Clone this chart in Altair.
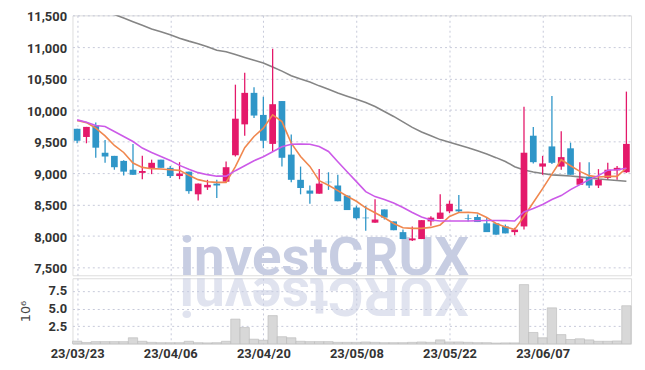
import altair as alt
import pandas as pd

dates = ["23/03/23", "23/03/24", "23/03/27", "23/03/28", "23/03/29", "23/03/30", "23/03/31",
         "23/04/03", "23/04/04", "23/04/05", "23/04/06", "23/04/07", "23/04/10", "23/04/11",
         "23/04/12", "23/04/13", "23/04/14", "23/04/17", "23/04/18", "23/04/19", "23/04/20",
         "23/04/21", "23/04/24", "23/04/25", "23/04/26", "23/04/27", "23/04/28", "23/05/02",
         "23/05/03", "23/05/04", "23/05/08", "23/05/09", "23/05/10", "23/05/11", "23/05/12",
         "23/05/15", "23/05/16", "23/05/17", "23/05/18", "23/05/19", "23/05/22", "23/05/23",
         "23/05/24", "23/05/25", "23/05/26", "23/05/30", "23/05/31", "23/06/01", "23/06/02",
         "23/06/05", "23/06/07", "23/06/08", "23/06/09", "23/06/12", "23/06/13", "23/06/14",
         "23/06/15", "23/06/16", "23/06/19", "23/06/20"]

opens = [9700, 9570, 9750, 9320, 9270, 9190, 9050, 9000, 9070, 9210,
         9080, 8950, 9020, 8660, 8770, 8830, 8860, 9280, 9770, 10270,
         9920, 9460, 10140, 9290, 8890, 8720, 8670, 8860, 8800, 8640,
         8450, 8290, 8210, 8420, 8230, 8060, 7930, 7950, 8230, 8270,
         8390, 8420, 8280, 8300, 8200, 8200, 8150, 8060, 8150, 9590,
         9100, 9420, 9100, 9390, 8810, 8940, 8800, 8920, 9040, 9010]
highs = [9700, 9730, 9800, 9520, 9270, 9200, 9460, 9270, 9210, 9210,
         9110, 9170, 9020, 8830, 8890, 8890, 9180, 10400, 10590, 10360,
         10210, 10970, 10140, 9610, 9100, 8800, 9060, 9010, 8970, 8640,
         8480, 8480, 8580, 8420, 8230, 8100, 8150, 8250, 8310, 8660,
         8560, 8650, 8340, 8340, 8290, 8200, 8180, 8130, 10050, 9730,
         9270, 10220, 9660, 9480, 9170, 9170, 9060, 9160, 9110, 10290]
lows = [9470, 9470, 9240, 9160, 9050, 8960, 8970, 8900, 8980, 9080,
        8920, 8900, 8670, 8560, 8730, 8600, 8850, 9260, 9590, 9870,
        9390, 9340, 9100, 8850, 8660, 8510, 8670, 8730, 8550, 8410,
        8260, 8080, 8210, 8260, 8090, 7950, 7920, 7950, 8160, 8270,
        8360, 8370, 8230, 8220, 8060, 8020, 8040, 8010, 8100, 9150,
        8970, 9140, 9050, 8970, 8810, 8760, 8760, 8900, 8890, 9000]
closes = [9510, 9730, 9400, 9260, 9090, 9020, 8970, 9030, 9160, 9080,
          8950, 8990, 8710, 8830, 8810, 8800, 9090, 9860, 10270, 9910,
          9510, 10090, 9240, 8890, 8760, 8670, 8830, 8850, 8550, 8410,
          8280, 8280, 8260, 8290, 8090, 7950, 7960, 8250, 8290, 8370,
          8510, 8390, 8270, 8220, 8060, 8020, 8040, 8100, 9320, 9170,
          9150, 9160, 9250, 8970, 8910, 8800, 8890, 9050, 9080, 9460]

ma_short = [9830, 9798, 9710, 9588, 9435, 9324, 9157, 9087, 9067, 9062,
            9051, 9040, 8961, 8893, 8858, 8850, 8850, 9100, 9400, 9577,
            9710, 9920, 9814, 9473, 9261, 9103, 8877, 8803, 8719, 8629,
            8550, 8446, 8367, 8288, 8198, 8130, 8120, 8119, 8135, 8174,
            8308, 8371, 8376, 8364, 8293, 8198, 8143, 8103, 8308, 8530,
            8751, 8980, 9209, 9114, 9024, 8956, 8936, 8945, 8945, 9078]
ma_mid = [9841, 9805, 9751, 9735, 9656, 9577, 9498, 9394, 9324, 9261,
          9198, 9119, 9059, 9004, 8972, 8948, 8948, 9035, 9114, 9193,
          9256, 9335, 9414, 9454, 9457, 9454, 9419, 9340, 9177, 9019,
          8861, 8703, 8624, 8577, 8522, 8451, 8372, 8301, 8253, 8237,
          8237, 8237, 8237, 8240, 8245, 8245, 8242, 8237, 8380, 8435,
          8498, 8577, 8640, 8735, 8814, 8893, 8956, 9043, 9051, 9075]
ma_long = [None, None, None, 11570, 11513, 11459, 11400, 11344, 11284, 11241,
           11194, 11137, 11091, 11050, 11000, 10947, 10922, 10877, 10832, 10789,
           10745, 10680, 10615, 10543, 10490, 10441, 10381, 10328, 10269, 10217,
           10168, 10116, 10053, 9974, 9896, 9809, 9722, 9648, 9588, 9528,
           9486, 9444, 9400, 9351, 9299, 9242, 9181, 9098, 9046, 9015,
           8991, 8969, 8961, 8951, 8937, 8918, 8902, 8890, 8879, 8868]
volume = [0.37, 0.18, 0.3, 0.3, 0.3, 0.3, 0.85, 0.35, 0.2, 0.15,
          0.15, 0.15, 0.35, 0.15, 0.12, 0.15, 0.35, 3.5, 2.3, 0.65,
          0.5, 4.0, 1.0, 0.85, 0.35, 0.3, 0.3, 0.3, 0.2, 0.2,
          0.2, 0.25, 0.2, 0.15, 0.15, 0.15, 0.2, 0.25, 0.2, 0.55,
          0.25, 0.25, 0.2, 0.15, 0.15, 0.1, 0.12, 0.12, 8.4, 1.6,
          0.85, 5.1, 1.3, 0.6, 0.7, 0.55, 0.35, 0.35, 0.4, 5.4]

price_ticks = [7500, 8000, 8500, 9000, 9500, 10000, 10500, 11000, 11500]
vol_ticks = [2.5, 5.0, 7.5]
date_ticks = [0, 10, 20, 30, 40, 50]

df = pd.DataFrame({
    "i": list(range(len(dates))), "date": dates, "open": opens, "high": highs,
    "low": lows, "close": closes, "ma_short": ma_short, "ma_mid": ma_mid,
    "ma_long": ma_long, "volume": volume,
})

UP = "#e4196a"
DOWN = "#2f96c8"
GRID = "#c6c9da"
LABEL_FONT = "Roboto"
WM_FONT = "Roboto"

W = 563
H_MAIN = 262
H_VOL = 66

label_expr = "[" + ",".join("'" + d + "'" for d in dates) + "][datum.value]"
xscale = alt.Scale(domain=[-0.5, len(dates) - 0.5], nice=False, zero=False)

base = alt.Chart(df).transform_calculate(
    xa="datum.i - 0.36", xb="datum.i + 0.36", va="datum.i - 0.5", vb="datum.i + 0.5"
)

x_main_axis = alt.Axis(
    values=date_ticks, labels=False, ticks=False, domain=False, title=None,
    grid=True, gridColor=GRID, gridDash=[2, 3])
y_main_scale = alt.Scale(domain=[7375, 11500], nice=False, zero=False)
y_main_axis = alt.Axis(
    values=price_ticks, format=",.0f", title=None, ticks=False, domain=False,
    grid=True, gridColor=GRID, gridDash=[2, 3], labelFont=LABEL_FONT,
    labelFontSize=13, labelFontWeight="bold", labelColor="#333333",
    labelPadding=6, labelOffset=1.5, minExtent=59, maxExtent=59)


def xm(field):
    return alt.X(field, scale=xscale, axis=x_main_axis)


def ym(field):
    return alt.Y(field, scale=y_main_scale, axis=y_main_axis)


color_cond = alt.condition("datum.close >= datum.open", alt.value(UP), alt.value(DOWN))

watermark = alt.Chart(pd.DataFrame({"t": ["investCRUX"]})).mark_text(
    font=WM_FONT, fontSize=55, fontWeight="bold", color="#c7cde2",
    align="left", baseline="alphabetic", clip=True
).encode(x=alt.value(108), y=alt.value(H_MAIN), text="t:N")

long_line = base.transform_filter("isValid(datum.ma_long)").mark_line(
    color="#858585", strokeWidth=1.6, clip=True
).encode(x=xm("i:Q"), y=ym("ma_long:Q"))

wicks = base.mark_rule(strokeWidth=1.3).encode(
    x=xm("i:Q"), y=ym("low:Q"), y2="high:Q", color=color_cond)
bodies = base.mark_rect().encode(
    x=xm("xa:Q"), x2="xb:Q", y=ym("open:Q"), y2="close:Q", color=color_cond)

short_line = base.mark_line(color="#f0874e", strokeWidth=1.6).encode(
    x=xm("i:Q"), y=ym("ma_short:Q"))
mid_line = base.mark_line(color="#cc5ae8", strokeWidth=1.6).encode(
    x=xm("i:Q"), y=ym("ma_mid:Q"))

main = alt.layer(watermark, long_line, wicks, bodies, short_line, mid_line).properties(
    width=W, height=H_MAIN)

reflection = alt.Chart(pd.DataFrame({"t": ["XURCtsevni"]})).mark_text(
    font=WM_FONT, fontSize=55, fontWeight="bold", color="#c7cde2", opacity=0.55,
    align="right", baseline="alphabetic", angle=180, clip=True
).encode(x=alt.value(108), y=alt.value(0), text="t:N")

vol_bars = base.mark_rect(color="#d8d8d8", stroke="#b8b8b8", strokeWidth=0.6).encode(
    x=alt.X("va:Q", scale=xscale, axis=alt.Axis(
        values=date_ticks, labelExpr=label_expr, ticks=False, domain=False, title=None,
        grid=True, gridColor=GRID, gridDash=[2, 3], labelFont=LABEL_FONT,
        labelFontSize=13, labelFontWeight="bold", labelColor="#333333", labelPadding=4)),
    x2="vb:Q",
    y=alt.Y("volume:Q", scale=alt.Scale(domain=[0, 9.3], nice=False), axis=alt.Axis(
        values=vol_ticks, format=".1f", title="10⁶", titleX=-40, titleY=H_VOL / 2,
        titleFontWeight="normal", titleFontSize=13, titleColor="#444444",
        titleFont="DejaVu Sans",
        ticks=False, domain=False, grid=True, gridColor=GRID, gridDash=[2, 3],
        labelFont=LABEL_FONT, labelFontSize=13, labelFontWeight="bold",
        labelColor="#333333", labelPadding=6, minExtent=59, maxExtent=59)),
)

vol = alt.layer(reflection, vol_bars).properties(width=W, height=H_VOL)

chart = alt.vconcat(main, vol, spacing=0).properties(
    padding={"left": 5, "top": 1, "right": 5, "bottom": 0}
).configure_view(stroke="#cccccc").configure(background="white")

chart.save("out.html", embed_options={"renderer": "svg", "actions": False})
